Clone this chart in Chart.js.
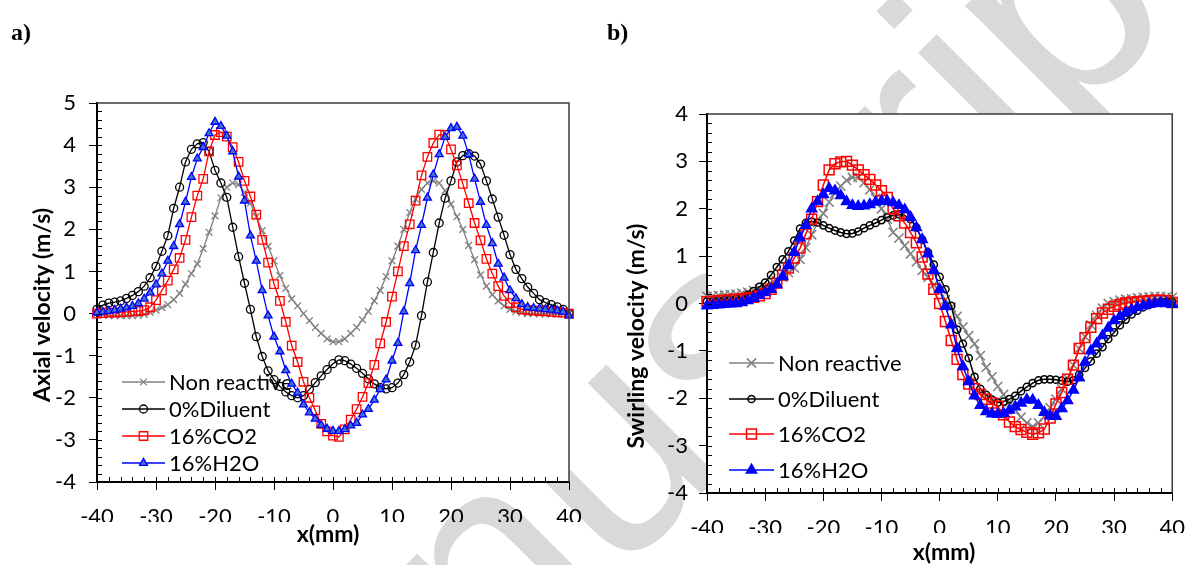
<!DOCTYPE html>
<html lang="en">
<head>
  <meta charset="UTF-8" />
  <title>Axial and swirling velocity profiles</title>
  <style>
    html, body { margin: 0; padding: 0; background: #fff; }
    #page { position: relative; width: 1199px; height: 565px; overflow: hidden; }
    canvas { position: absolute; top: 0; }
    #marca { left: 0; }
    #graficoAxial { left: 0; }
    #graficoSwirl { left: 600px; }
    .painel { position: absolute; top: 19px; font: bold 24px "Liberation Serif", serif; color: #000; }
  </style>
</head>
<body>
  <div id="page">
    <canvas id="marca" width="1199" height="565"></canvas>
    <canvas id="graficoAxial" width="600" height="565"></canvas>
    <canvas id="graficoSwirl" width="599" height="565"></canvas>
    <div class="painel" style="left:11px">a)</div>
    <div class="painel" style="left:607px">b)</div>
  </div>

  <script src="https://cdn.jsdelivr.net/npm/chart.js@4.4.0/dist/chart.umd.min.js"></script>
  <script>
  const positions = [
    -40, -39, -38, -37, -36, -35, -34, -33, -32, -31,
    -30, -29, -28, -27, -26, -25, -24, -23, -22, -21,
    -20, -19, -18, -17, -16, -15, -14, -13, -12, -11,
    -10, -9, -8, -7, -6, -5, -4, -3, -2, -1,
    0, 1, 2, 3, 4, 5, 6, 7, 8, 9,
    10, 11, 12, 13, 14, 15, 16, 17, 18, 19,
    20, 21, 22, 23, 24, 25, 26, 27, 28, 29,
    30, 31, 32, 33, 34, 35, 36, 37, 38, 39,
    40
  ];
  const seriesNames = ['Non reactive', '0%Diluent', '16%CO2', '16%H2O'];
  const xTicks = [-40, -30, -20, -10, 0, 10, 20, 30, 40];
  const axialTicks = [-4, -3, -2, -1, 0, 1, 2, 3, 4, 5];
  const swirlTicks = [-4, -3, -2, -1, 0, 1, 2, 3, 4];

  // axial velocity (m/s)
  const axialNonReactive = [
    0.0, -0.03, -0.05, -0.05, -0.05, -0.05, -0.05, -0.04, -0.02, 0.03,
    0.08, 0.14, 0.21, 0.33, 0.48, 0.7, 0.95, 1.18, 1.54, 1.93,
    2.32, 2.75, 3.0, 3.1, 3.06, 2.88, 2.62, 2.3, 1.97, 1.6,
    1.25, 0.9, 0.6, 0.35, 0.18, 0.0, -0.17, -0.33, -0.47, -0.6,
    -0.67, -0.67, -0.6, -0.47, -0.33, -0.15, 0.05, 0.3, 0.55, 0.88,
    1.25, 1.6, 2.0, 2.4, 2.72, 2.95, 3.1, 3.15, 3.1, 2.92,
    2.6, 2.3, 2.0, 1.62, 1.28, 0.92, 0.65, 0.45, 0.3, 0.18,
    0.1, 0.05, 0.02, 0.0, 0.0, -0.01, -0.01, -0.01, -0.01, -0.01,
    0.0
  ];
  const axialDiluent = [
    0.1, 0.2, 0.25, 0.27, 0.3, 0.36, 0.43, 0.52, 0.65, 0.85,
    1.12, 1.48, 1.85, 2.5, 3.0, 3.6, 3.9, 4.03, 4.06, 3.85,
    3.4, 3.1, 2.76, 2.05, 1.35, 0.72, 0.1, -0.55, -1.02, -1.36,
    -1.57, -1.73, -1.86, -1.95, -2.0, -1.95, -1.8, -1.64, -1.48, -1.33,
    -1.19, -1.1, -1.12, -1.2, -1.3, -1.42, -1.55, -1.67, -1.76, -1.79,
    -1.76, -1.65, -1.45, -1.15, -0.75, -0.05, 0.75, 1.45, 2.15, 2.74,
    3.15, 3.6, 3.75, 3.8, 3.74, 3.55, 3.15, 2.72, 2.29, 1.86,
    1.4, 1.05, 0.83, 0.63, 0.48, 0.33, 0.26, 0.21, 0.16, 0.1,
    0.0
  ];
  const axialCO2 = [
    0.0, 0.01, 0.02, 0.02, 0.03, 0.04, 0.05, 0.06, 0.08, 0.15,
    0.32, 0.55, 0.78, 1.05, 1.32, 1.75, 2.29, 2.8, 3.2, 3.85,
    4.24, 4.31, 4.2, 3.95, 3.6, 3.15, 2.78, 2.35, 1.75, 1.21,
    0.7, 0.3, -0.2, -0.76, -1.15, -1.62, -2.0, -2.3, -2.62, -2.8,
    -2.9, -2.93, -2.75, -2.52, -2.27, -1.98, -1.65, -1.22, -0.71, -0.2,
    0.4, 1.0, 1.6, 2.12, 2.68, 3.28, 3.72, 4.05, 4.25, 4.24,
    3.9, 3.52, 3.08, 2.62, 2.15, 1.74, 1.3, 0.95, 0.65, 0.42,
    0.25, 0.15, 0.1, 0.08, 0.07, 0.06, 0.05, 0.04, 0.03, 0.02,
    0.0
  ];
  const axialH2O = [
    0.02, 0.04, 0.06, 0.08, 0.11, 0.14, 0.18, 0.24, 0.35, 0.5,
    0.69, 0.95, 1.25, 1.6, 2.12, 2.65, 3.24, 3.68, 3.95, 4.28,
    4.55, 4.45, 4.22, 3.85, 3.25, 2.68, 1.85, 1.25, 0.55, -0.05,
    -0.55, -0.9, -1.35, -1.67, -1.88, -2.16, -2.35, -2.5, -2.65, -2.74,
    -2.79, -2.79, -2.75, -2.66, -2.6, -2.4, -2.27, -2.05, -1.8, -1.57,
    -1.12, -0.7, 0.05, 0.72, 1.5, 2.1, 2.75, 3.3, 3.78, 4.19,
    4.4, 4.43, 4.22, 3.78, 3.2, 2.65, 2.1, 1.67, 1.18, 0.85,
    0.55, 0.36, 0.22, 0.15, 0.13, 0.12, 0.1, 0.09, 0.07, 0.04,
    -0.05
  ];

  // swirling velocity (m/s)
  const swirlNonReactive = [
    0.15, 0.16, 0.17, 0.18, 0.19, 0.2, 0.22, 0.24, 0.27, 0.31,
    0.36, 0.42, 0.48, 0.55, 0.65, 0.75, 0.93, 1.18, 1.45, 1.71,
    1.9, 2.14, 2.33, 2.48, 2.6, 2.66, 2.66, 2.55, 2.4, 2.22,
    2.0, 1.78, 1.5, 1.38, 1.22, 1.05, 0.88, 0.7, 0.55, 0.4,
    0.25, 0.08, -0.08, -0.27, -0.5, -0.68, -0.85, -1.1, -1.35, -1.55,
    -1.75, -1.92, -2.08, -2.25, -2.4, -2.52, -2.6, -2.52, -2.38, -2.2,
    -2.02, -1.8, -1.58, -1.3, -0.95, -0.7, -0.45, -0.25, -0.1, 0.0,
    0.04, 0.07, 0.09, 0.1, 0.12, 0.13, 0.14, 0.15, 0.15, 0.14,
    0.13
  ];
  const swirlDiluent = [
    0.05, 0.05, 0.06, 0.07, 0.08, 0.1, 0.13, 0.18, 0.26, 0.35,
    0.44, 0.6, 0.77, 0.93, 1.1, 1.33, 1.58, 1.7, 1.73, 1.71,
    1.65, 1.59, 1.54, 1.5, 1.47, 1.48, 1.52, 1.59, 1.65, 1.7,
    1.76, 1.82, 1.86, 1.88, 1.86, 1.78, 1.6, 1.35, 1.08, 0.82,
    0.56, 0.3, -0.05, -0.55, -0.85, -1.15, -1.55, -1.8, -1.93, -2.03,
    -2.09, -2.07, -2.02, -1.95, -1.85, -1.76, -1.68, -1.62, -1.6, -1.6,
    -1.61, -1.63, -1.65, -1.62, -1.5, -1.36, -1.22, -1.06, -0.92, -0.75,
    -0.61, -0.46, -0.34, -0.23, -0.15, -0.08, -0.03, 0.01, 0.03, 0.04,
    0.04
  ];
  const swirlCO2 = [
    0.04, 0.05, 0.06, 0.07, 0.08, 0.09, 0.1, 0.11, 0.13, 0.16,
    0.21, 0.3, 0.43, 0.6, 0.75, 0.96, 1.17, 1.47, 1.78, 2.15,
    2.5, 2.82, 2.95, 2.99, 3.0, 2.92, 2.82, 2.72, 2.62, 2.5,
    2.38, 2.24, 2.0, 1.85, 1.7, 1.5, 1.28, 0.98, 0.62, 0.3,
    0.0, -0.38, -0.78, -1.18, -1.5, -1.7, -1.8, -1.92, -2.02, -2.1,
    -2.17, -2.35, -2.5, -2.6, -2.66, -2.72, -2.76, -2.73, -2.65, -2.42,
    -2.12, -1.88, -1.6, -1.3, -0.95, -0.72, -0.5, -0.32, -0.2, -0.12,
    -0.06, -0.02, 0.01, 0.03, 0.04, 0.05, 0.06, 0.07, 0.07, 0.06,
    0.02
  ];
  const swirlH2O = [
    -0.05, -0.04, -0.03, -0.02, -0.01, 0.0, 0.02, 0.06, 0.11, 0.17,
    0.23, 0.3, 0.4, 0.57, 0.8, 1.08, 1.38, 1.65, 2.0, 2.15,
    2.3, 2.43, 2.38, 2.28, 2.15, 2.07, 2.05, 2.06, 2.09, 2.14,
    2.16, 2.16, 2.13, 2.07, 1.98, 1.82, 1.6, 1.35, 1.05, 0.7,
    0.3, -0.06, -0.45, -0.95, -1.33, -1.65, -1.95, -2.15, -2.28, -2.33,
    -2.34, -2.32, -2.25, -2.18, -2.1, -2.03, -2.04, -2.15, -2.3, -2.37,
    -2.38, -2.22, -2.05, -1.83, -1.57, -1.24, -1.0, -0.85, -0.68, -0.52,
    -0.36, -0.27, -0.19, -0.13, -0.08, -0.05, -0.02, 0.0, 0.01, 0.0,
    -0.02
  ];

  const FONT = 'Lato, "Open Sans", sans-serif';

  // frame, minor ticks, axis titles and the legend of each panel
  const painelPlugin = {
    id: 'painel',
    beforeDraw(chart) {
      const { ctx, chartArea: a } = chart;
      ctx.save();
      ctx.fillStyle = '#fff';
      ctx.fillRect(a.left, a.top, a.right - a.left, a.bottom - a.top);
      ctx.restore();
    },
    beforeDatasetsDraw(chart, args, opts) {
      const ctx = chart.ctx;
      ctx.save();
      ctx.font = opts.legendFont + 'px ' + FONT;
      ctx.textBaseline = 'middle';
      chart.data.datasets.forEach((ds, i) => {
        const y = opts.legendRows[i];
        const [x0, x1] = opts.legendLine;
        ctx.strokeStyle = ds.borderColor;
        ctx.lineWidth = ds.borderWidth;
        ctx.beginPath();
        ctx.moveTo(x0, y);
        ctx.lineTo(x1, y);
        ctx.stroke();
        ctx.fillStyle = ds.pointBackgroundColor;
        ctx.strokeStyle = ds.pointBorderColor;
        ctx.lineWidth = ds.pointBorderWidth;
        Chart.helpers.drawPoint(ctx, {
          pointStyle: ds.pointStyle, rotation: 0,
          radius: ds.pointRadius, borderWidth: ds.pointBorderWidth
        }, (x0 + x1) / 2, y);
        ctx.fillStyle = '#000';
        ctx.fillText(ds.label, x1 + 4, y + 1);
      });
      ctx.restore();
    },
    afterDraw(chart, args, opts) {
      const { ctx, chartArea: a, scales: { x, y } } = chart;
      ctx.save();
      ctx.strokeStyle = '#3a3a3a';
      ctx.lineWidth = 1.5;
      ctx.beginPath();
      ctx.moveTo(a.left, a.top);
      ctx.lineTo(a.right, a.top);
      ctx.lineTo(a.right, a.bottom);
      ctx.stroke();

      ctx.strokeStyle = '#000';
      ctx.lineWidth = 1;
      ctx.beginPath();
      const nx = Math.round((x.max - x.min) / opts.minorX);
      for (let i = 1; i < nx; i++) {
        const px = Math.round(x.getPixelForValue(x.min + i * opts.minorX)) + 0.5;
        ctx.moveTo(px, a.bottom);
        ctx.lineTo(px, a.bottom - 5);
      }
      const ny = Math.round((y.max - y.min) / opts.minorY);
      for (let i = 1; i < ny; i++) {
        const py = Math.round(y.getPixelForValue(y.min + i * opts.minorY)) + 0.5;
        ctx.moveTo(a.left, py);
        ctx.lineTo(a.left + 5, py);
      }
      ctx.stroke();

      ctx.fillStyle = '#000';
      ctx.font = 'bold ' + opts.titleFont + 'px ' + FONT;
      ctx.textAlign = 'center';
      ctx.textBaseline = 'middle';
      ctx.fillText(opts.xTitle, opts.xTitleAt[0], opts.xTitleAt[1]);
      ctx.translate(opts.yTitleAt[0], opts.yTitleAt[1]);
      ctx.rotate(-Math.PI / 2);
      ctx.fillText(opts.yTitle, 0, 0);
      ctx.restore();
    }
  };

  function montarSeries(values, look) {
    const colors = ['#808080', '#000000', '#ff0000', '#0000ff'];
    const styles = ['crossRot', 'circle', 'rect', 'triangle'];
    const order = [3, 2, 1, 0];
    return values.map((vals, i) => ({
      label: seriesNames[i],
      data: positions.map((p, j) => ({ x: p, y: vals[j] })),
      borderColor: colors[i],
      borderWidth: look.line,
      pointStyle: styles[i],
      pointRadius: look.radius[i],
      pointBorderColor: colors[i],
      pointBorderWidth: look.pointLine,
      pointBackgroundColor: i === 3 ? look.triFill : 'rgba(0,0,0,0)',
      order: order[i],
      clip: false,
      tension: 0
    }));
  }

  function montarGrafico(id, cfg) {
    return new Chart(document.getElementById(id), {
      type: 'line',
      data: { datasets: montarSeries(cfg.values, cfg.look) },
      options: {
        responsive: false,
        animation: false,
        events: [],
        layout: { padding: cfg.padding },
        plugins: {
          legend: { display: false },
          tooltip: { enabled: false },
          painel: cfg.painel
        },
        scales: {
          x: {
            type: 'linear', min: -40, max: 40,
            afterFit: s => { s.height = 40; },
            afterBuildTicks: s => { s.ticks = xTicks.map(v => ({ value: v })); },
            ticks: { color: '#000', font: { family: FONT, size: 22 }, padding: cfg.xPad, maxRotation: 0 },
            grid: { drawOnChartArea: false, tickLength: 8, color: '#000' },
            border: { color: '#000', width: 2 }
          },
          y: {
            type: 'linear', min: cfg.yTicks[0], max: cfg.yTicks[cfg.yTicks.length - 1],
            afterFit: s => { s.width = 60; },
            afterBuildTicks: s => { s.ticks = cfg.yTicks.map(v => ({ value: v })); },
            ticks: { color: '#000', font: { family: FONT, size: 22 }, padding: cfg.yPad },
            grid: { drawOnChartArea: false, tickLength: 8, color: '#000' },
            border: { color: '#000', width: 2 }
          }
        }
      },
      plugins: [painelPlugin]
    });
  }

  // faint manuscript watermark behind both panels
  function desenharMarca() {
    const ctx = document.getElementById('marca').getContext('2d');
    ctx.save();
    ctx.fillStyle = '#d9d9d9';
    ctx.font = '300px "Liberation Sans", Arial, sans-serif';
    ctx.textAlign = 'right';
    ctx.translate(1240, -45);
    ctx.rotate(-Math.PI / 4);
    ctx.fillText('Accepted Manuscript', 0, 0);
    ctx.restore();
  }

  function iniciar() {
    desenharMarca();

    montarGrafico('graficoAxial', {
      values: [axialNonReactive, axialDiluent, axialCO2, axialH2O],
      yTicks: axialTicks,
      padding: { left: 37, top: 103, right: 31, bottom: 43 },
      xPad: 14, yPad: 13,
      look: { line: 1.3, pointLine: 1.3, radius: [4.8, 4, 6, 4.6], triFill: '#4472c4' },
      painel: {
        minorX: 2, minorY: 0.2,
        xTitle: 'x(mm)', xTitleAt: [328, 535],
        yTitle: 'Axial velocity (m/s)', yTitleAt: [43, 305], titleFont: 23,
        legendFont: 22, legendLine: [122, 165], legendRows: [382, 409, 436, 463]
      }
    });

    montarGrafico('graficoSwirl', {
      values: [swirlNonReactive, swirlDiluent, swirlCO2, swirlH2O],
      yTicks: swirlTicks,
      padding: { left: 47, top: 114, right: 18, bottom: 32 },
      xPad: 14, yPad: 11,
      look: { line: 1.5, pointLine: 1.5, radius: [6.5, 3.6, 7, 5.8], triFill: '#0000ff' },
      painel: {
        minorX: 2, minorY: 0.2,
        xTitle: 'x(mm)', xTitleAt: [344, 553],
        yTitle: 'Swirling velocity (m/s)', yTitleAt: [37, 336], titleFont: 23,
        legendFont: 22, legendLine: [129, 174], legendRows: [363, 399, 434, 470]
      }
    });
  }

  window.onload = () => {
    document.fonts.load('20px Lato').then(iniciar, iniciar);
  };
  </script>
</body>
</html>
